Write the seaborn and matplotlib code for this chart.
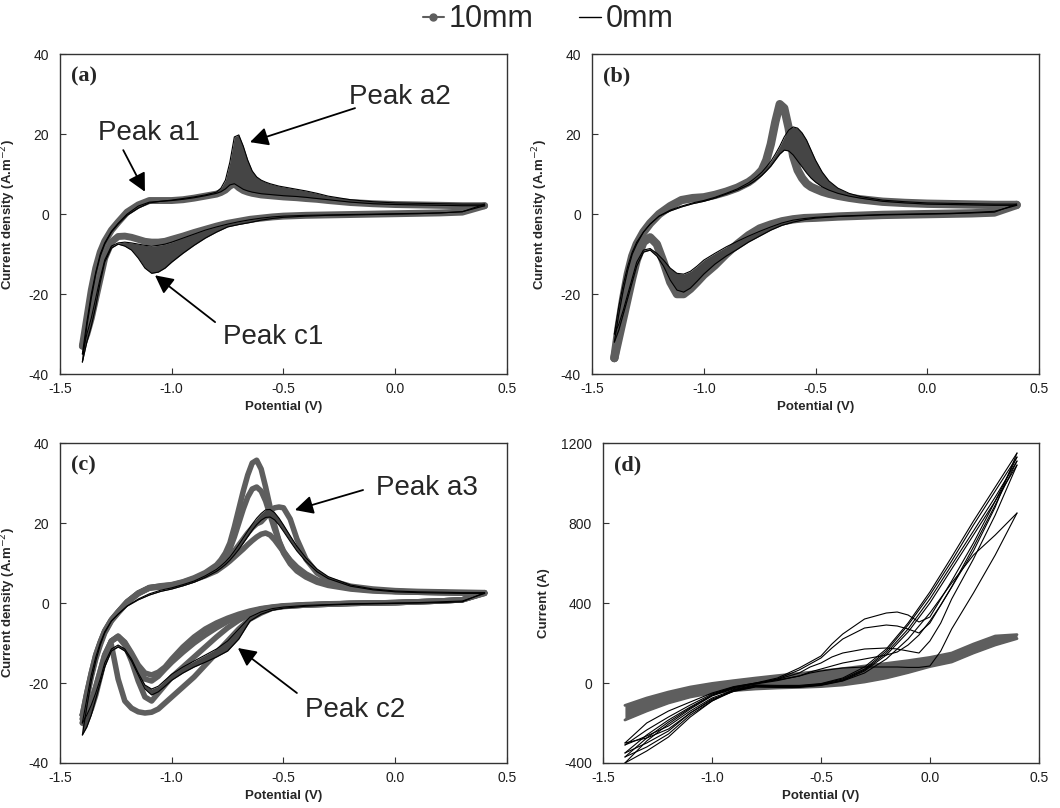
import numpy as np
import pandas as pd
import seaborn as sns
import matplotlib.pyplot as plt
from matplotlib.lines import Line2D

sns.set_theme(style='ticks')
plt.rcParams['font.family'] = ['Liberation Sans', 'DejaVu Sans']
plt.rcParams['axes.unicode_minus'] = False

# ---------------- potential grids (V) ----------------
# anodic sweep -1.4 -> 0.4, panels a-c
POT_FWD = [-1.40, -1.38, -1.36, -1.34, -1.32, -1.30, -1.27, -1.24, -1.20, -1.15,
           -1.10, -1.05, -1.00, -0.95, -0.90, -0.85, -0.80, -0.78, -0.76, -0.74,
           -0.72, -0.70, -0.68, -0.66, -0.64, -0.62, -0.60, -0.58, -0.56, -0.54,
           -0.52, -0.50, -0.47, -0.44, -0.40, -0.35, -0.30, -0.20, -0.10, 0.00,
           0.10, 0.20, 0.30, 0.40]
# cathodic sweep 0.4 -> -1.4, panels a-c
POT_REV = [0.40, 0.30, 0.20, 0.10, 0.00, -0.10, -0.20, -0.30, -0.40, -0.50,
           -0.55, -0.60, -0.65, -0.70, -0.75, -0.80, -0.85, -0.90, -0.95, -1.00,
           -1.03, -1.06, -1.09, -1.12, -1.15, -1.18, -1.21, -1.24, -1.27, -1.30,
           -1.32, -1.34, -1.36, -1.38, -1.40]

# ---------------- panel (a) current density (A.m-2) ----------------
a_0mm_fwd_hi = [-37, -28, -21, -15, -10.5, -7.5, -4.5, -2.5, -0.3, 1.5,
                2.8, 3.2, 3.5, 3.9, 4.3, 4.8, 5.5, 6.5, 8.5, 13,
                19.3, 19.8, 17, 13.5, 10.8, 9.3, 8.5, 8, 7.6, 7.3,
                7, 6.8, 6.5, 6.2, 5.8, 5.2, 4.5, 3.6, 3.1, 2.8,
                2.7, 2.6, 2.5, 2.5]
a_0mm_fwd_lo = [-35, -27, -20, -14.5, -10, -7.2, -4.3, -2.3, 0, 2,
                3, 3.2, 3.4, 3.7, 4.1, 4.6, 5.2, 5.6, 6.3, 7.3,
                7.6, 6.9, 6.2, 5.8, 5.5, 5.3, 5.1, 5, 4.9, 4.8,
                4.7, 4.6, 4.5, 4.4, 4.2, 3.9, 3.6, 3, 2.6, 2.4,
                2.3, 2.2, 2.1, 2.1]
a_10mm_fwd = [-33, -26, -19, -13.5, -9.5, -6.8, -4, -2, 0.5, 2.3,
              3.4, 3.4, 3.4, 3.6, 4, 4.5, 5, 5.4, 6, 7,
              7.6, 6.6, 5.9, 5.5, 5.2, 5, 4.8, 4.7, 4.6, 4.5,
              4.4, 4.3, 4.2, 4.1, 3.9, 3.7, 3.4, 2.9, 2.6, 2.4,
              2.3, 2.2, 2.1, 2.1]
a_0mm_rev_hi = [2.5, 0.6, 0.3, 0.1, 0, -0.1, -0.2, -0.3, -0.5, -0.8,
                -1.1, -1.5, -2.1, -2.6, -3.2, -4.5, -6, -7.8, -9.8, -12,
                -13.5, -14.5, -14.8, -13.5, -11, -9, -8, -7.5, -8.5, -12,
                -17, -23, -28, -32, -37]
a_0mm_rev_lo = [2.1, 0.6, 0.3, 0.2, 0.1, 0, -0.1, -0.2, -0.3, -0.5,
                -0.7, -1, -1.4, -1.9, -2.5, -3.2, -4, -5, -6, -7,
                -7.5, -7.8, -8, -7.8, -7.5, -7.2, -7, -7.2, -8, -11.5,
                -16, -21, -26, -30, -35]
a_10mm_rev = [2.1, 0.5, 0.3, 0.2, 0.1, 0, -0.1, -0.2, -0.3, -0.5,
              -0.7, -1, -1.3, -1.8, -2.3, -3, -3.8, -4.6, -5.5, -6.3,
              -6.8, -7, -7, -6.8, -6.3, -5.8, -5.5, -5.6, -7, -11,
              -16, -21, -26, -30, -33]

# ---------------- panel (b) ----------------
b_0mm_fwd_hi = [-32, -25, -19, -14, -10, -7.5, -4.5, -2.5, -0.5, 1,
                2, 2.8, 3.4, 4.2, 5.2, 6.3, 7.8, 8.6, 9.5, 10.5,
                11.8, 13.2, 15, 17, 19.3, 21, 21.8, 21.5, 20.3, 18.5,
                16, 13.5, 10.5, 8.3, 6.5, 5.2, 4.4, 3.5, 3.1, 2.8,
                2.7, 2.6, 2.5, 2.5]
b_0mm_fwd_lo = [-30, -23, -17.5, -13, -9.5, -7, -4.5, -2.5, -0.5, 0.8,
                1.8, 2.6, 3.2, 4, 5, 6, 7.3, 8, 8.8, 9.7,
                10.8, 12, 13.5, 15, 16, 15.8, 14.8, 13.3, 11.8, 10.3,
                9, 8, 6.8, 6, 5.2, 4.5, 4, 3.2, 2.8, 2.5,
                2.4, 2.3, 2.2, 2.2]
b_10mm_fwd = [-36, -28, -21, -15, -10.5, -7.5, -4.5, -2.3, 0, 2,
              3.5, 4, 4.2, 4.8, 5.6, 6.6, 8, 8.8, 9.8, 11,
              13.5, 17.5, 23, 27.5, 26.5, 21.5, 14.5, 11, 9, 7.6,
              6.8, 6.3, 5.6, 5.1, 4.6, 4.1, 3.7, 3.1, 2.8, 2.6,
              2.5, 2.4, 2.3, 2.3]
b_0mm_rev_hi = [2.5, 0.5, 0.3, 0.1, 0, -0.1, -0.2, -0.4, -0.6, -1,
                -1.4, -2, -2.8, -4, -5.5, -7, -8.8, -10.5, -12.5, -15,
                -16.8, -18.5, -19.5, -19, -16.5, -13, -10.5, -9, -9.5, -13,
                -17, -21, -25, -29, -32]
b_0mm_rev_lo = [2.2, 0.7, 0.4, 0.2, 0.1, 0, -0.1, -0.3, -0.5, -0.8,
                -1.1, -1.5, -2.2, -3.2, -4.3, -5.5, -6.8, -8.2, -9.8, -11.5,
                -13, -14.3, -15, -14.8, -13.5, -11.5, -9.8, -8.6, -9, -12,
                -16, -20, -24, -27.5, -30]
b_10mm_rev = [2.3, 0.4, 0.2, 0.1, 0, -0.1, -0.2, -0.4, -0.6, -0.9,
              -1.0, -1.3, -1.8, -2.6, -3.6, -5.3, -7.5, -10, -12.8, -15.2,
              -17, -18.7, -20, -20, -17, -12, -7.5, -5.8, -7, -11.5,
              -16, -21, -26, -31, -36]

# ---------------- panel (c) ----------------
c_0mm_fwd_hi = [-33, -26, -19.5, -14.5, -10.5, -7.5, -4.5, -2.8, -0.8, 1,
                2.3, 3.2, 3.8, 4.6, 5.5, 6.8, 8.4, 9.3, 10.3, 11.5,
                13, 14.6, 16.3, 18, 19.7, 21.2, 22.4, 23.3, 23.4, 22.6,
                21.2, 19.5, 16.8, 14.2, 11.3, 8.5, 6.6, 4.5, 3.5, 3,
                2.8, 2.7, 2.6, 2.6]
c_0mm_fwd_lo = [-30, -24, -18, -13.5, -10, -7.2, -4.5, -2.8, -0.8, 0.8,
                2, 2.9, 3.5, 4.3, 5.2, 6.4, 7.9, 8.7, 9.6, 10.7,
                12, 13.4, 15, 16.6, 18.2, 19.6, 20.7, 21.4, 21.5, 20.8,
                19.5, 17.9, 15.4, 13, 10.4, 7.8, 6.1, 4.2, 3.3, 2.8,
                2.6, 2.5, 2.4, 2.4]
c_0mm_rev_hi = [2.6, 0.3, 0.1, 0, -0.1, -0.2, -0.3, -0.5, -0.8, -1.3,
                -1.8, -2.8, -4.5, -9, -12, -13.5, -14.8, -16, -17.5, -19.3,
                -20.8, -22.2, -23, -21.5, -18, -14.5, -12, -11, -12, -16,
                -20, -24, -28, -31, -33]
c_0mm_rev_lo = [2.4, 0.5, 0.3, 0.1, 0, -0.1, -0.2, -0.4, -0.6, -1,
                -1.4, -2.2, -3.5, -6.5, -9.5, -11.5, -13, -14.5, -16, -17.8,
                -19.3, -20.8, -21.5, -20.5, -17.5, -14, -11.5, -10.5, -11.5, -15,
                -19, -22.5, -25.5, -28, -30]
# 10mm cycles, one list per cycle
c_10mm_fwd = [
    [-30, -24, -18.5, -14, -10.5, -7.5, -4.5, -2.5, 0, 2.3,
     3.8, 4.3, 4.6, 5.3, 6.3, 7.6, 9.5, 10.8, 12.5, 15,
     19, 23.5, 28, 32, 35, 35.7, 33.5, 29, 24, 19.5,
     15.5, 12.5, 9.8, 8, 6.5, 5.2, 4.4, 3.5, 3, 2.8,
     2.7, 2.6, 2.5, 2.5],
    [-29, -23, -18, -13.5, -10, -7.2, -4.3, -2.3, 0.2, 2.5,
     3.9, 4.2, 4.5, 5.2, 6.1, 7.3, 9, 10, 11.5, 13.5,
     16.5, 20, 23.5, 26.5, 28.5, 29, 28, 25.5, 22, 18.5,
     15.5, 13, 10.5, 8.7, 7, 5.6, 4.7, 3.7, 3.2, 2.9,
     2.7, 2.6, 2.5, 2.4],
    [-28, -22.5, -17.5, -13, -9.8, -7, -4.2, -2.2, 0.3, 2.5,
     3.8, 4.1, 4.4, 5, 5.9, 7, 8.5, 9.3, 10.3, 11.5,
     13, 14.5, 16, 17.5, 18.8, 19.8, 20.3, 21.5, 23, 23.8,
     24, 23.8, 21, 16, 11, 7.5, 5.8, 4.2, 3.5, 3.1,
     2.9, 2.8, 2.7, 2.6],
    [-28, -22.5, -17.5, -13, -9.8, -7, -4.2, -2.2, 0.3, 2.4,
     3.7, 4, 4.3, 4.9, 5.8, 6.8, 8, 8.8, 9.6, 10.5,
     11.5, 12.5, 13.5, 14.6, 15.6, 16.5, 17.2, 17.5, 17, 15.8,
     14.3, 12.8, 10.7, 9, 7.3, 5.8, 4.8, 3.7, 3.2, 2.9,
     2.7, 2.6, 2.5, 2.5],
]
c_10mm_rev = [
    [2.5, 0.8, 0.5, 0.3, 0.1, 0, -0.1, -0.3, -0.5, -0.9,
     -1.3, -2.5, -4, -6.5, -9.5, -12.5, -15.5, -18.5, -21, -23.5,
     -25, -26.5, -27.3, -27.5, -27.2, -26.3, -24.5, -19, -10.5, -14,
     -18.5, -23, -26.5, -29, -30],
    [2.4, 0.8, 0.5, 0.3, 0.1, 0, -0.1, -0.3, -0.5, -0.8,
     -1.2, -1.8, -2.8, -4.3, -6.2, -8.5, -11, -13.5, -16, -18.5,
     -20.5, -22.5, -24.5, -23.5, -19.5, -14.5, -10.5, -8.5, -9.5, -13.5,
     -18, -22, -25.5, -28, -29],
    [2.6, 0.8, 0.5, 0.3, 0.1, 0, -0.1, -0.3, -0.5, -0.8,
     -1.1, -1.5, -2.3, -3.3, -4.6, -6.2, -8, -10, -12.3, -14.8,
     -16.5, -18.3, -19.5, -19, -16.5, -13, -10, -8.3, -9.5, -13,
     -17, -21, -24.5, -27, -28],
    [2.5, 0.8, 0.5, 0.3, 0.1, 0, -0.1, -0.2, -0.4, -0.7,
     -1, -1.4, -2, -2.8, -3.8, -5, -6.5, -8.5, -11, -14,
     -16, -17.3, -18, -17.5, -15.5, -12.5, -9.8, -8.3, -9.5, -13,
     -17, -21, -24.5, -27, -28],
]

# ---------------- panel (d) current (A) ----------------
D_POT_FWD = [-1.4, -1.3, -1.2, -1.1, -1.0, -0.9, -0.8, -0.7, -0.6, -0.55,
             -0.5, -0.45, -0.4, -0.3, -0.2, -0.15, -0.1, -0.05, 0.0, 0.05,
             0.1, 0.2, 0.3, 0.4]
D_POT_REV = [0.4, 0.3, 0.2, 0.1, 0.0, -0.1, -0.2, -0.3, -0.4, -0.5,
             -0.6, -0.7, -0.8, -0.9, -1.0, -1.1, -1.2, -1.3, -1.4]
d_0mm_fwd = [
    [-310, -235, -170, -110, -55, -20, 0, 25, 75, 105,
     135, 195, 245, 320, 350, 355, 340, 305, 330, 420,
     510, 700, 910, 1130],
    [-350, -260, -185, -120, -60, -22, -3, 20, 65, 95,
     125, 175, 220, 275, 290, 285, 270, 250, 300, 390,
     480, 680, 890, 1110],
    [-370, -275, -195, -125, -62, -24, -2, 18, 50, 80,
     100, 130, 150, 170, 175, 170, 160, 150, 210, 300,
     420, 620, 840, 1090],
    [-400, -290, -205, -130, -65, -28, -5, 12, 35, 55,
     70, 85, 100, 120, 140, 155, 190, 240, 310, 390,
     480, 660, 880, 1150],
    [-300, -200, -140, -95, -50, -18, 0, 15, 35, 50,
     60, 68, 75, 80, 80, 80, 78, 78, 85, 160,
     270, 450, 640, 850],
]
d_0mm_rev = [
    [1130, 960, 790, 610, 440, 290, 160, 70, 20, -5,
     -15, -15, -12, -35, -75, -140, -215, -265, -310],
    [1110, 930, 760, 590, 420, 270, 150, 65, 15, -8,
     -18, -18, -15, -38, -85, -150, -240, -300, -350],
    [1090, 910, 740, 570, 400, 255, 140, 60, 12, -10,
     -20, -20, -18, -40, -90, -160, -255, -320, -370],
    [1150, 980, 810, 630, 455, 300, 170, 80, 25, -3,
     -12, -12, -10, -32, -90, -170, -270, -340, -400],
    [850, 740, 640, 500, 350, 220, 120, 50, 10, -12,
     -22, -22, -20, -42, -80, -150, -230, -275, -300],
]
D_POT_BAND = [-1.4, -1.3, -1.2, -1.1, -1.0, -0.9, -0.8, -0.7, -0.6, -0.5,
              -0.4, -0.3, -0.2, -0.1, 0.0, 0.1, 0.2, 0.3, 0.4]
d_10mm_top = [-112, -75, -45, -20, -2, 12, 25, 37, 48, 60,
              72, 85, 98, 112, 128, 150, 195, 235, 242]
d_10mm_bot = [-185, -140, -100, -70, -50, -38, -30, -25, -22, -18,
              -10, 5, 25, 52, 82, 105, 150, 190, 222]

X_TICKS = [-1.5, -1.0, -0.5, 0.0, 0.5]
X_TICKLABELS = ['-1.5', '-1.0', '-0.5', '0.0', '0.5']

GREY = '#5e5e5e'
BAND = '#454545'
BLACK = '#000000'


def curve(ax, x, y, color, lw, z):
    sns.lineplot(x=x, y=y, ax=ax, color=color, lw=lw, sort=False,
                 estimator=None, zorder=z, legend=False,
                 solid_capstyle='round', solid_joinstyle='round')


def black_band(ax, x, lo, hi):
    ax.fill_between(x, lo, hi, color=BAND, lw=0, zorder=3)
    curve(ax, x, lo, BLACK, 0.8, 4)
    curve(ax, x, hi, BLACK, 0.8, 4)


def style(ax, ylim, yticks, ylabel, tag, ylab_x):
    ax.set_xlim(-1.5, 0.5)
    ax.set_ylim(*ylim)
    ax.set_xticks(X_TICKS)
    ax.set_xticklabels(X_TICKLABELS)
    ax.set_yticks(yticks)
    ax.set_yticklabels([str(v) for v in yticks])
    ax.tick_params(direction='in', length=4, width=0.8, labelsize=10,
                   labelcolor='#1e1e1e', color='#333333')
    ax.tick_params(axis='y', pad=8)
    ax.tick_params(axis='x', pad=6)
    for s in ax.spines.values():
        s.set_visible(True)
        s.set_linewidth(1.0)
        s.set_color('#333333')
    ax.set_xlabel('Potential (V)', fontsize=9.5, fontweight='bold')
    ax.set_ylabel(ylabel, fontsize=9.5, fontweight='bold')
    ax.xaxis.set_label_coords(0.5, -0.085)
    ax.yaxis.set_label_coords(ylab_x, 0.5)
    ax.text(0.025, 0.96, tag, transform=ax.transAxes, fontsize=16,
            fontweight='bold', family='Liberation Serif', va='top', ha='left')


def peak(ax, text, txt_xy, start, tip):
    ax.text(txt_xy[0], txt_xy[1], text, fontsize=20, ha='center', va='center', zorder=6)
    ax.annotate('', xy=tip, xytext=start, zorder=6,
                arrowprops=dict(arrowstyle='-|>,head_length=0.55,head_width=0.28',
                                mutation_scale=20, lw=1.3, color='black',
                                shrinkA=0, shrinkB=0))


fig = plt.figure(figsize=(10.6, 8.08), dpi=100)
ax_a = fig.add_axes([0.0566, 0.537, 0.4217, 0.396])
ax_b = fig.add_axes([0.5585, 0.537, 0.4217, 0.396])
ax_c = fig.add_axes([0.0566, 0.0557, 0.4217, 0.396])
ax_d = fig.add_axes([0.569, 0.0557, 0.411, 0.396])

dens = 'Current density (A.m$^{-2}$)'

# (a)
curve(ax_a, POT_FWD, a_10mm_fwd, GREY, 5, 2)
curve(ax_a, POT_REV, a_10mm_rev, GREY, 5, 2)
black_band(ax_a, POT_FWD, a_0mm_fwd_lo, a_0mm_fwd_hi)
black_band(ax_a, POT_REV, a_0mm_rev_lo, a_0mm_rev_hi)
style(ax_a, (-40, 40), [-40, -20, 0, 20, 40], dens, '(a)', -0.094)
peak(ax_a, 'Peak a1', (-1.10, 20.2), (-1.217, 16), (-1.12, 5.6))
peak(ax_a, 'Peak a2', (0.02, 29.3), (-0.18, 26.5), (-0.65, 18))
peak(ax_a, 'Peak c1', (-0.547, -30.7), (-0.806, -27), (-1.075, -15.3))

# (b)
curve(ax_b, POT_FWD, b_10mm_fwd, GREY, 6, 2)
curve(ax_b, POT_REV, b_10mm_rev, GREY, 6, 2)
black_band(ax_b, POT_FWD, b_0mm_fwd_lo, b_0mm_fwd_hi)
black_band(ax_b, POT_REV, b_0mm_rev_lo, b_0mm_rev_hi)
style(ax_b, (-40, 40), [-40, -20, 0, 20, 40], dens, '(b)', -0.094)

# (c)
for yf, yr in zip(c_10mm_fwd, c_10mm_rev):
    curve(ax_c, POT_FWD, yf, GREY, 4, 2)
    curve(ax_c, POT_REV, yr, GREY, 4, 2)
black_band(ax_c, POT_FWD, c_0mm_fwd_lo, c_0mm_fwd_hi)
black_band(ax_c, POT_REV, c_0mm_rev_lo, c_0mm_rev_hi)
style(ax_c, (-40, 40), [-40, -20, 0, 20, 40], dens, '(c)', -0.094)
peak(ax_c, 'Peak a3', (0.142, 28.75), (-0.144, 28.25), (-0.449, 23.25))
peak(ax_c, 'Peak c2', (-0.18, -26.75), (-0.44, -22.5), (-0.704, -11.25))

# (d)
ax_d.fill_between(D_POT_BAND, d_10mm_bot, d_10mm_top, color=GREY, lw=0, zorder=2)
curve(ax_d, D_POT_BAND, d_10mm_top, GREY, 2, 2)
curve(ax_d, D_POT_BAND, d_10mm_bot, GREY, 2, 2)
for yf, yr in zip(d_0mm_fwd, d_0mm_rev):
    curve(ax_d, D_POT_FWD, yf, BLACK, 0.8, 4)
    curve(ax_d, D_POT_REV, yr, BLACK, 0.8, 4)
style(ax_d, (-400, 1200), [-400, 0, 400, 800, 1200], 'Current (A)', '(d)', -0.122)

handles = [Line2D([0], [0], color=GREY, lw=1.5, marker='o', markersize=5),
           Line2D([0], [0], color=BLACK, lw=1.0)]
fig.legend(handles, ['10mm', '0mm'], loc='center', bbox_to_anchor=(0.517, 0.976),
           ncol=2, frameon=False, fontsize=22, handlelength=0.7,
           handletextpad=0.15, columnspacing=1.5)

fig.savefig('out.png', dpi=100)
